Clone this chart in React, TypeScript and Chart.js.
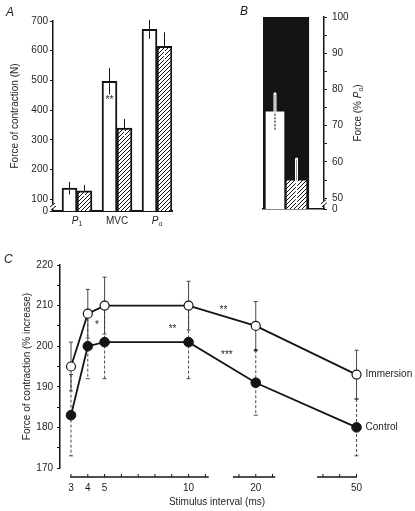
import React, { useEffect, useRef } from "react";
import { Chart, registerables } from "chart.js";

Chart.register(...registerables);

const FAMILY = "'Liberation Sans', Arial, Helvetica, sans-serif";
const INK = "#141414";
const TEXT = "#1e1e1e";

// ---------- Panel A : force of contraction (N) ----------
const categoriesA = ["P_1", "MVC", "P_o"];
const controlA = [137, 497, 672];
const controlErrA = [21, 44, 32];
const immersionA = [128, 339, 615];
const immersionErrA = [20, 31, 47];
const ticksA = [0, 100, 200, 300, 400, 500, 600, 700];
const breakA = 60; // scale value at which the "0" tick of the broken axis sits
const sigA = [{ category: 1, value: 440, text: "**" }];

// ---------- Panel B : force (% Po) ----------
const forceB = [73.8, 54.8];
const forceErrB = [5, 6];
const referenceB = 100;
const ticksB = [0, 50, 60, 70, 80, 90, 100];
const minorTicksB = [55, 65, 75, 85, 95];
const breakB = 47;

// ---------- Panel C : force vs stimulus interval ----------
const intervalsC = [3, 4, 5, 10, 20, 50];
const immersionC = [195, 208, 210, 210, 205, 193];
const immersionErrC = [6, 6, 7, 6, 6, 6];
const controlC = [183, 200, 201, 201, 191, 180];
const controlErrC = [10, 8, 9, 9, 8, 7];
const ticksC = [170, 180, 190, 200, 210, 220];
const minorTicksC = [175, 185, 195, 205, 215];
const seriesNamesC = ["Immersion", "Control"];
const sigC = [
  { after: 1, t: 0.55, value: 206, text: "*" },
  { after: 2, t: 0.81, value: 205, text: "**" },
  { after: 3, t: 0.52, value: 209.5, text: "**" },
  { after: 3, t: 0.57, value: 198.6, text: "***" },
  { after: 4, t: 0, value: 199, text: "*" },
];
// broken x axis: each piece maps ms onto the axis with its own unit
const axisBreaksC = [
  { from: 2.95, to: 11.2, anchor: 3, at: 3, perUnit: 1, step: 1 },
  { from: 13.2, to: 25.8, anchor: 20, at: 14, perUnit: 5, step: 5 },
  { from: 26.5, to: 50.2, anchor: 50, at: 20, perUnit: 10, step: 10 },
];

function axisPos(ms: number): number {
  let seg = axisBreaksC.find((s) => ms >= s.from - 1e-9 && ms <= s.to + 1e-9);
  if (!seg) seg = axisBreaksC[axisBreaksC.length - 1];
  return seg.at + (ms - seg.anchor) / seg.perUnit;
}

type Run = { t: string; italic?: boolean; sub?: boolean };
function parseRich(s: string): Run[] {
  const runs: Run[] = [];
  const re = /([A-Za-z])_([A-Za-z0-9])/g;
  let last = 0;
  let m: RegExpExecArray | null;
  while ((m = re.exec(s))) {
    if (m.index > last) runs.push({ t: s.slice(last, m.index) });
    runs.push({ t: m[1], italic: true });
    runs.push({ t: m[2], sub: true });
    last = re.lastIndex;
  }
  if (last < s.length) runs.push({ t: s.slice(last) });
  return runs;
}
function drawRich(ctx: CanvasRenderingContext2D, s: string, x: number, y: number, size: number) {
  const runs = parseRich(s);
  const fontOf = (r: Run) => `${r.italic ? "italic " : ""}${r.sub ? Math.round(size * 0.72) : size}px ${FAMILY}`;
  let w = 0;
  for (const r of runs) {
    ctx.font = fontOf(r);
    w += ctx.measureText(r.t).width;
  }
  let cx = x - w / 2;
  ctx.textAlign = "left";
  ctx.textBaseline = "middle";
  ctx.fillStyle = TEXT;
  for (const r of runs) {
    ctx.font = fontOf(r);
    ctx.fillText(r.t, cx, r.sub ? y + size * 0.32 : y);
    cx += ctx.measureText(r.t).width;
  }
}

function makeHatch(): any {
  const c = document.createElement("canvas");
  c.width = 4;
  c.height = 4;
  const g = c.getContext("2d")!;
  g.fillStyle = "#fff";
  g.fillRect(0, 0, 4, 4);
  g.strokeStyle = INK;
  g.lineWidth = 1;
  g.beginPath();
  g.moveTo(0, 4);
  g.lineTo(4, 0);
  g.moveTo(-1, 1);
  g.lineTo(1, -1);
  g.moveTo(3, 5);
  g.lineTo(5, 3);
  g.stroke();
  return g.createPattern(c, "repeat");
}

const tickFont = { family: FAMILY, size: 10 };

function line(ctx: CanvasRenderingContext2D, x1: number, y1: number, x2: number, y2: number, color: string, w: number, dash: number[] = []) {
  ctx.save();
  ctx.strokeStyle = color;
  ctx.lineWidth = w;
  ctx.setLineDash(dash);
  ctx.beginPath();
  ctx.moveTo(x1, y1);
  ctx.lineTo(x2, y2);
  ctx.stroke();
  ctx.restore();
}

function drawBreak(ctx: CanvasRenderingContext2D, x: number, y: number) {
  ctx.save();
  ctx.fillStyle = "#fff";
  ctx.fillRect(x - 3, y - 2, 6, 4);
  ctx.restore();
  line(ctx, x - 3, y + 0.5, x + 2, y - 3.5, INK, 1);
  line(ctx, x - 2, y + 3.5, x + 3, y - 0.5, INK, 1);
}

function buildA(canvas: HTMLCanvasElement, hatch: any) {
  const plugin = {
    id: "panelA",
    afterDatasetsDraw(chart: any) {
      const ctx = chart.ctx as CanvasRenderingContext2D;
      const y = chart.scales.y;
      const vals = [controlA, immersionA];
      const errs = [controlErrA, immersionErrA];
      [0, 1].forEach((d) => {
        const meta = chart.getDatasetMeta(d);
        meta.data.forEach((bar: any, i: number) => {
          const v = vals[d][i];
          const e = errs[d][i];
          const yt = y.getPixelForValue(v + e);
          const yv = y.getPixelForValue(v);
          const yb = y.getPixelForValue(v - e);
          line(ctx, bar.x, yt, bar.x, yv, INK, 1);
          line(ctx, bar.x, yv + 2, bar.x, yb, d === 0 ? INK : "#fff", 1);
        });
      });
      const meta0 = chart.getDatasetMeta(0);
      ctx.save();
      ctx.fillStyle = TEXT;
      ctx.font = `10px ${FAMILY}`;
      ctx.textAlign = "center";
      ctx.textBaseline = "middle";
      sigA.forEach((s) => {
        ctx.fillText(s.text, meta0.data[s.category].x, y.getPixelForValue(s.value) + 2);
      });
      ctx.restore();
    },
    afterDraw(chart: any) {
      const ctx = chart.ctx as CanvasRenderingContext2D;
      const x = chart.scales.x;
      const y = chart.scales.y;
      categoriesA.forEach((c, i) => {
        drawRich(ctx, c, x.getPixelForValue(i), chart.chartArea.bottom + 10, 10);
      });
      drawBreak(ctx, chart.chartArea.left, y.getPixelForValue((breakA + 100) / 2 - 5));
    },
  };
  return new Chart(canvas, {
    type: "bar",
    data: {
      datasets: [
        {
          label: "Control",
          data: controlA.map((v, i) => ({ x: i, y: v })),
          backgroundColor: "#fff",
          borderColor: INK,
          borderWidth: 2,
          borderSkipped: false,
          barThickness: 15,
        },
        {
          label: "Immersion",
          data: immersionA.map((v, i) => ({ x: i, y: v })),
          backgroundColor: hatch,
          borderColor: INK,
          borderWidth: 2,
          borderSkipped: false,
          barThickness: 15,
        },
      ],
    } as any,
    options: {
      responsive: false,
      animation: false,
      layout: { padding: { top: 21, right: 28, left: 0, bottom: 0 } },
      plugins: { legend: { display: false }, tooltip: { enabled: false } },
      scales: {
        x: {
          type: "linear",
          min: -0.6,
          max: 2.375,
          offset: false,
          grid: { display: false, drawTicks: false },
          ticks: { display: false },
          border: { display: true, color: INK, width: 2 },
          afterFit: (s: any) => {
            s.height = 29;
          },
        },
        y: {
          type: "linear",
          min: breakA,
          max: 700,
          beginAtZero: false,
          afterBuildTicks: (s: any) => {
            s.ticks = ticksA.map((v) => ({ value: v === 0 ? breakA : v }));
          },
          ticks: {
            callback: (v: any) => (v === breakA ? "0" : String(v)),
            font: tickFont,
            color: TEXT,
            padding: 2,
          },
          grid: { drawOnChartArea: false, tickLength: 3, color: INK },
          border: { color: INK, width: 1.5 },
          title: {
            display: true,
            text: "Force of contraction (N)",
            font: tickFont,
            color: TEXT,
            padding: { top: 9, bottom: 0 },
          },
          afterFit: (s: any) => {
            s.width = 53;
          },
        },
      },
    } as any,
    plugins: [plugin],
  });
}

function buildB(canvas: HTMLCanvasElement, hatch: any) {
  const plugin = {
    id: "panelB",
    afterDatasetsDraw(chart: any) {
      const ctx = chart.ctx as CanvasRenderingContext2D;
      const y = chart.scales.y;
      [1, 2].forEach((d, k) => {
        const bar = chart.getDatasetMeta(d).data[0];
        const v = forceB[k];
        const e = forceErrB[k];
        const yt = y.getPixelForValue(v + e);
        const yv = y.getPixelForValue(v);
        const yb = y.getPixelForValue(v - e);
        ctx.save();
        ctx.lineCap = "round";
        line(ctx, bar.x, yt, bar.x, yv, "#fff", 3);
        line(ctx, bar.x, yt + 1, bar.x, yv, "#777", 0.8);
        if (k === 0) line(ctx, bar.x, yv + 2, bar.x, yb, INK, 1, [1.5, 2]);
        else line(ctx, bar.x, yv, bar.x, yb, "#fff", 1.5);
        ctx.restore();
      });
    },
    afterDraw(chart: any) {
      const ctx = chart.ctx as CanvasRenderingContext2D;
      const y = chart.scales.y;
      const { right, top, bottom } = chart.chartArea;
      drawBreak(ctx, right, y.getPixelForValue(breakB + 1.6));
      ctx.save();
      ctx.translate(right + 34, (top + bottom) / 2);
      ctx.rotate(-Math.PI / 2);
      drawRich(ctx, "Force (% P_o)", 0, 0, 10);
      ctx.restore();
    },
  };
  return new Chart(canvas, {
    type: "bar",
    data: {
      datasets: [
        {
          label: "Po",
          data: [{ x: 0.5, y: referenceB }],
          backgroundColor: INK,
          borderWidth: 0,
          barThickness: 46,
          grouped: false,
          order: 3,
        },
        {
          label: "Control",
          data: [{ x: 0, y: forceB[0] }],
          backgroundColor: "#fff",
          borderWidth: 0,
          barThickness: 18,
          grouped: false,
          order: 2,
        },
        {
          label: "Immersion",
          data: [{ x: 1, y: forceB[1] }],
          backgroundColor: hatch,
          borderWidth: 0,
          barThickness: 19,
          grouped: false,
          order: 1,
        },
      ],
    } as any,
    options: {
      responsive: false,
      animation: false,
      layout: { padding: { top: 17, right: 0, left: 48, bottom: 0 } },
      plugins: { legend: { display: false }, tooltip: { enabled: false } },
      scales: {
        x: {
          type: "linear",
          min: -0.558,
          max: 2.279,
          offset: false,
          grid: { display: false, drawTicks: false },
          ticks: { display: false },
          border: { display: true, color: INK, width: 1.5 },
          afterFit: (s: any) => {
            s.height = 31;
          },
        },
        y: {
          type: "linear",
          position: "right",
          min: breakB,
          max: 100,
          beginAtZero: false,
          afterBuildTicks: (s: any) => {
            const vals = ticksB.map((v) => (v === 0 ? breakB : v)).concat(minorTicksB);
            vals.sort((a, b) => a - b);
            s.ticks = vals.map((v) => ({ value: v }));
          },
          ticks: {
            callback: (v: any) => (v === breakB ? "0" : ticksB.includes(v) ? String(v) : ""),
            font: tickFont,
            color: TEXT,
            padding: 5,
          },
          grid: { drawOnChartArea: false, tickLength: 3, color: INK },
          border: { color: INK, width: 1.5 },
          afterFit: (s: any) => {
            s.width = 91;
          },
        },
      },
    } as any,
    plugins: [plugin],
  });
}

function buildC(canvas: HTMLCanvasElement) {
  const vals = [immersionC, controlC];
  const errs = [immersionErrC, controlErrC];
  const plugin = {
    id: "panelC",
    beforeDatasetsDraw(chart: any) {
      const ctx = chart.ctx as CanvasRenderingContext2D;
      const y = chart.scales.y;
      [0, 1].forEach((d) => {
        const meta = chart.getDatasetMeta(d);
        meta.data.forEach((pt: any, i: number) => {
          const v = vals[d][i];
          const e = errs[d][i];
          const yt = y.getPixelForValue(v + e);
          const yb = y.getPixelForValue(v - e);
          const dash = d === 0 ? [] : [3, 2];
          line(ctx, pt.x, yt, pt.x, yb, "#333", 0.9, dash);
          line(ctx, pt.x - 2, yt, pt.x + 2, yt, "#333", 0.9);
          line(ctx, pt.x - 2, yb, pt.x + 2, yb, "#333", 0.9);
        });
      });
    },
    afterDraw(chart: any) {
      const ctx = chart.ctx as CanvasRenderingContext2D;
      const x = chart.scales.x;
      const y = chart.scales.y;
      const ay = chart.chartArea.bottom + 9;
      // broken x axis pieces
      axisBreaksC.forEach((s) => {
        line(ctx, x.getPixelForValue(axisPos(s.from)), ay, x.getPixelForValue(axisPos(s.to)), ay, INK, 1.5);
        for (let ms = Math.ceil(s.from / s.step) * s.step; ms <= s.to + 1e-9; ms += s.step) {
          const px = x.getPixelForValue(axisPos(ms));
          line(ctx, px, ay, px, ay - 3, INK, 1);
        }
      });
      // significance marks
      const meta = chart.getDatasetMeta(0);
      ctx.save();
      ctx.fillStyle = TEXT;
      ctx.font = `10px ${FAMILY}`;
      ctx.textAlign = "center";
      ctx.textBaseline = "middle";
      sigC.forEach((s) => {
        const a = meta.data[s.after].x;
        const b = meta.data[Math.min(s.after + 1, meta.data.length - 1)].x;
        ctx.fillText(s.text, a + (b - a) * s.t, y.getPixelForValue(s.value) + 3);
      });
      // series names beside last points
      ctx.textAlign = "left";
      [0, 1].forEach((d) => {
        const pts = chart.getDatasetMeta(d).data;
        const last = pts[pts.length - 1];
        ctx.fillText(seriesNamesC[d], last.x + 9, last.y);
      });
      ctx.restore();
    },
  };
  return new Chart(canvas, {
    type: "line",
    data: {
      datasets: [
        {
          label: seriesNamesC[0],
          data: intervalsC.map((ms, i) => ({ x: axisPos(ms), y: immersionC[i] })),
          borderColor: INK,
          borderWidth: 1.8,
          pointRadius: 4.5,
          pointBackgroundColor: "#fff",
          pointBorderColor: INK,
          pointBorderWidth: 1.2,
          tension: 0,
        },
        {
          label: seriesNamesC[1],
          data: intervalsC.map((ms, i) => ({ x: axisPos(ms), y: controlC[i] })),
          borderColor: INK,
          borderWidth: 1.8,
          pointRadius: 4.8,
          pointBackgroundColor: INK,
          pointBorderColor: INK,
          pointBorderWidth: 1,
          tension: 0,
        },
      ],
    } as any,
    options: {
      responsive: false,
      animation: false,
      layout: { padding: { top: 15, right: 41, left: 0, bottom: 0 } },
      plugins: { legend: { display: false }, tooltip: { enabled: false } },
      scales: {
        x: {
          type: "linear",
          min: 2.345,
          max: 21.04,
          afterBuildTicks: (s: any) => {
            s.ticks = intervalsC.map((ms) => ({ value: axisPos(ms) }));
          },
          ticks: {
            callback: (_v: any, i: number) => String(intervalsC[i]),
            font: tickFont,
            color: TEXT,
            padding: 14,
            autoSkip: false,
            maxRotation: 0,
          },
          grid: { display: false, drawTicks: false },
          border: { display: false },
          title: {
            display: true,
            text: "Stimulus interval (ms)",
            font: tickFont,
            color: TEXT,
            padding: { top: 0, bottom: 3 },
          },
          afterFit: (s: any) => {
            s.height = 43;
          },
        },
        y: {
          type: "linear",
          min: 170,
          max: 220,
          afterBuildTicks: (s: any) => {
            const v = ticksC.concat(minorTicksC).sort((a, b) => a - b);
            s.ticks = v.map((t) => ({ value: t }));
          },
          ticks: {
            callback: (v: any) => (ticksC.includes(v) ? String(v) : ""),
            font: tickFont,
            color: TEXT,
            padding: 4,
          },
          grid: { drawOnChartArea: false, tickLength: 3, color: INK },
          border: { color: INK, width: 1.5 },
          title: {
            display: true,
            text: "Force of contraction (% increase)",
            font: tickFont,
            color: TEXT,
            padding: { top: 21, bottom: 0 },
          },
          afterFit: (s: any) => {
            s.width = 60;
          },
        },
      },
    } as any,
    plugins: [plugin],
  });
}

const letterStyle: React.CSSProperties = {
  position: "absolute",
  fontFamily: FAMILY,
  fontStyle: "italic",
  fontSize: 12,
  lineHeight: "12px",
  color: TEXT,
};

export default function App() {
  const refA = useRef<HTMLCanvasElement>(null);
  const refB = useRef<HTMLCanvasElement>(null);
  const refC = useRef<HTMLCanvasElement>(null);

  useEffect(() => {
    const hatch = makeHatch();
    const charts = [
      buildA(refA.current!, hatch),
      buildB(refB.current!, hatch),
      buildC(refC.current!),
    ];
    return () => charts.forEach((c) => c.destroy());
  }, []);

  return (
    <div style={{ position: "fixed", left: 0, top: 0, width: 415, height: 511, background: "#fff", overflow: "hidden" }}>
      <canvas ref={refA} width={200} height={240} style={{ position: "absolute", left: 0, top: 0 }} />
      <canvas ref={refB} width={200} height={240} style={{ position: "absolute", left: 215, top: 0 }} />
      <canvas ref={refC} width={415} height={261} style={{ position: "absolute", left: 0, top: 250 }} />
      <div style={{ ...letterStyle, left: 6, top: 6 }}>A</div>
      <div style={{ ...letterStyle, left: 240, top: 5 }}>B</div>
      <div style={{ ...letterStyle, left: 4, top: 253 }}>C</div>
    </div>
  );
}
